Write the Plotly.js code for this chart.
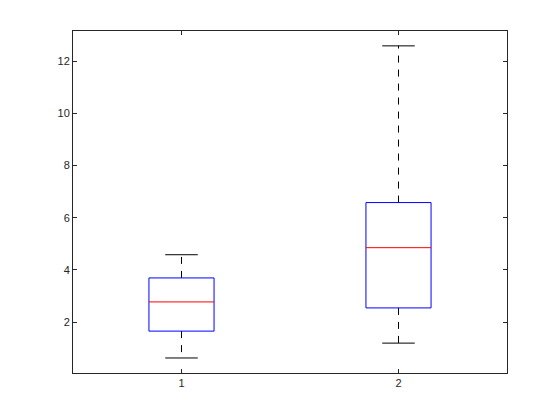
<!DOCTYPE html>
<html>
<head>
<meta charset="utf-8">
<script src="https://cdn.plot.ly/plotly-3.0.1.min.js"></script>
<style>
  html, body { margin: 0; padding: 0; background: #fff; }
  #plot { width: 560px; height: 420px; }
</style>
</head>
<body>
<div id="plot"></div>
<script>
// box statistics
let groups = [1, 2];
let lowerWhisker = [0.62, 1.19];
let q1 = [1.65, 2.54];
let median = [2.77, 4.85];
let q3 = [3.69, 6.58];
let upperWhisker = [4.58, 12.59];

let halfBox = 0.15;
let halfCap = 0.075;

let traces = [];

for (let i = 0; i < groups.length; i++) {
    let x = groups[i];

    // whiskers (dashed)
    traces.push({
        type: 'scatter', mode: 'lines',
        x: [x, x, null, x, x],
        y: [q3[i], upperWhisker[i], null, q1[i], lowerWhisker[i]],
        line: {color: '#000000', width: 1, dash: '7px,7px'},
        hoverinfo: 'skip'
    });

    // whisker caps
    traces.push({
        type: 'scatter', mode: 'lines',
        x: [x - halfCap, x + halfCap, null, x - halfCap, x + halfCap],
        y: [upperWhisker[i], upperWhisker[i], null, lowerWhisker[i], lowerWhisker[i]],
        line: {color: '#000000', width: 1},
        hoverinfo: 'skip'
    });

    // box
    traces.push({
        type: 'scatter', mode: 'lines',
        x: [x - halfBox, x + halfBox, x + halfBox, x - halfBox, x - halfBox],
        y: [q1[i], q1[i], q3[i], q3[i], q1[i]],
        line: {color: '#0000ff', width: 1},
        hoverinfo: 'skip'
    });

    // median
    traces.push({
        type: 'scatter', mode: 'lines',
        x: [x - halfBox, x + halfBox],
        y: [median[i], median[i]],
        line: {color: '#ff0000', width: 1},
        hoverinfo: 'skip'
    });
}

let layout = {
    width: 560,
    height: 420,
    margin: {l: 73, r: 53, t: 31, b: 47},
    paper_bgcolor: '#ffffff',
    plot_bgcolor: '#ffffff',
    showlegend: false,
    font: {family: 'Liberation Sans, Arial, sans-serif', size: 11, color: '#262626'},
    xaxis: {
        range: [0.5, 2.5],
        tickvals: groups,
        ticktext: ['1', '2'],
        ticks: 'inside',
        ticklen: 4,
        tickcolor: '#262626',
        showgrid: false,
        zeroline: false,
        showline: true,
        linecolor: '#262626',
        linewidth: 1,
        mirror: 'ticks'
    },
    yaxis: {
        range: [0.044, 13.16],
        tickvals: [2, 4, 6, 8, 10, 12],
        ticks: 'inside',
        ticklen: 4,
        tickcolor: '#262626',
        showgrid: false,
        zeroline: false,
        showline: true,
        linecolor: '#262626',
        linewidth: 1,
        mirror: 'ticks'
    }
};

Plotly.newPlot('plot', traces, layout, {displayModeBar: false, staticPlot: true});
</script>
</body>
</html>
